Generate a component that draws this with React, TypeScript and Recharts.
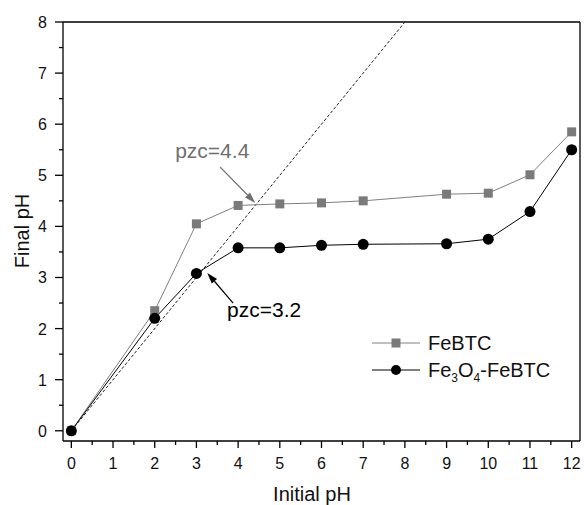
import React from 'react';
import { LineChart, Line, XAxis, YAxis, ReferenceLine, Legend } from 'recharts';

const initialPH = [0, 2, 3, 4, 5, 6, 7, 9, 10, 11, 12];
const feBTC = [0, 2.35, 4.05, 4.41, 4.44, 4.46, 4.5, 4.63, 4.65, 5.01, 5.85];
const fe3o4FeBTC = [0, 2.2, 3.08, 3.58, 3.58, 3.63, 3.65, 3.66, 3.75, 4.29, 5.5];

const xTicks = Array.from({ length: 25 }, (_, i) => i / 2);
const yTicks = Array.from({ length: 17 }, (_, i) => i / 2);

const data = initialPH.map((x, i) => ({ x, feBTC: feBTC[i], fe3o4: fe3o4FeBTC[i] }));

const FONT = '"Liberation Sans", Arial, sans-serif';

function XTick(props: any) {
  const { x, y, payload } = props;
  const major = Number.isInteger(payload.value);
  return (
    <g>
      <line x1={x} x2={x} y1={y} y2={y + (major ? 7 : 4)} stroke="#000" strokeWidth={1.3} />
      {major && (
        <text x={x} y={y + 28} textAnchor="middle" fontSize={16} fontFamily={FONT} fill="#111">
          {payload.value}
        </text>
      )}
    </g>
  );
}

function YTick(props: any) {
  const { x, y, payload } = props;
  const major = Number.isInteger(payload.value);
  return (
    <g>
      <line x1={x} x2={x - (major ? 8 : 4)} y1={y} y2={y} stroke="#000" strokeWidth={1.3} />
      {major && (
        <text x={x - 16} y={y + 6} textAnchor="end" fontSize={16} fontFamily={FONT} fill="#111">
          {payload.value}
        </text>
      )}
    </g>
  );
}

function arrow(color: string, label: string, dx: number, dy: number) {
  return (p: any) => {
    const { x1, y1, x2, y2 } = p;
    const ang = Math.atan2(y2 - y1, x2 - x1);
    const len = 11;
    const w = 3.5;
    const bx = x2 - len * Math.cos(ang);
    const by = y2 - len * Math.sin(ang);
    const px = -Math.sin(ang) * w;
    const py = Math.cos(ang) * w;
    return (
      <g>
        <line x1={x1} y1={y1} x2={bx} y2={by} stroke={color} strokeWidth={1.2} />
        <polygon points={`${x2},${y2} ${bx + px},${by + py} ${bx - px},${by - py}`} fill={color} />
        <text x={x1 + dx} y={y1 + dy} fontSize={21} fontFamily={FONT} fill={color}>
          {label}
        </text>
      </g>
    );
  };
}

function LegendBox() {
  return (
    <svg width={220} height={60} style={{ overflow: 'visible' }}>
      <line x1={12} x2={60} y1={15} y2={15} stroke="#808080" strokeWidth={1} />
      <rect x={31.5} y={10.5} width={9} height={9} fill="#7a7a7a" />
      <text x={68} y={22} fontSize={20} fontFamily={FONT} fill="#111">FeBTC</text>
      <line x1={12} x2={60} y1={42} y2={42} stroke="#000" strokeWidth={1} />
      <circle cx={36} cy={42} r={5} fill="#000" />
      <text x={68} y={49} fontSize={20} fontFamily={FONT} fill="#111">
        Fe<tspan fontSize={12} dy={5}>3</tspan>
        <tspan dy={-5}>O</tspan>
        <tspan fontSize={12} dy={5}>4</tspan>
        <tspan dy={-5}>-FeBTC</tspan>
      </text>
    </svg>
  );
}

export default function App() {
  return (
    <div style={{ position: 'absolute', left: 0, top: 0, background: '#fff' }}>
      <LineChart width={584} height={505} data={data} margin={{ top: 22, right: 4, bottom: 0, left: 0 }}>
        <XAxis
          dataKey="x"
          type="number"
          domain={[-0.2, 12.2]}
          ticks={xTicks}
          interval={0}
          height={64}
          tickSize={0}
          tickMargin={0}
          tick={<XTick />}
          axisLine={{ stroke: '#000', strokeWidth: 1.3 }}
          label={{
            content: () => (
              <text x={312} y={501} textAnchor="middle" fontSize={20} fontFamily={FONT} fill="#111">
                Initial pH
              </text>
            ),
          }}
        />
        <YAxis
          type="number"
          domain={[-0.2, 8]}
          ticks={yTicks}
          interval={0}
          width={63}
          tickSize={0}
          tickMargin={0}
          tick={<YTick />}
          axisLine={{ stroke: '#000', strokeWidth: 1.3 }}
          label={{
            content: () => (
              <text x={29} y={231} transform="rotate(-90 29 231)" textAnchor="middle" fontSize={20} fontFamily={FONT} fill="#111">
                Final pH
              </text>
            ),
          }}
        />
        <ReferenceLine y={8} stroke="#000" strokeWidth={1.3} ifOverflow="visible" />
        <ReferenceLine x={12.2} stroke="#000" strokeWidth={1.3} ifOverflow="visible" />
        <ReferenceLine
          segment={[{ x: 0, y: 0 }, { x: 8, y: 8 }]}
          stroke="#222"
          strokeWidth={1}
          strokeDasharray="3 2"
        />
        <ReferenceLine
          segment={[{ x: 3.57, y: 5.16 }, { x: 4.41, y: 4.46 }]}
          shape={arrow('#6e6e6e', 'pzc=4.4', -45, -9)}
        />
        <ReferenceLine
          segment={[{ x: 3.88, y: 2.5 }, { x: 3.26, y: 3.09 }]}
          shape={arrow('#000', 'pzc=3.2', -6, 14)}
        />
        <Line
          dataKey="feBTC"
          stroke="#808080"
          strokeWidth={1}
          isAnimationActive={false}
          dot={(p: any) => <rect key={`s${p.index}`} x={p.cx - 4.5} y={p.cy - 4.5} width={9} height={9} fill="#7a7a7a" />}
        />
        <Line
          dataKey="fe3o4"
          stroke="#000"
          strokeWidth={1}
          isAnimationActive={false}
          dot={(p: any) => <circle key={`c${p.index}`} cx={p.cx} cy={p.cy} r={5.5} fill="#000" />}
        />
        <Legend
          layout="horizontal"
          verticalAlign="middle"
          content={() => <LegendBox />}
          wrapperStyle={{ position: 'absolute', left: 360, top: 328, width: 220 }}
        />
      </LineChart>
    </div>
  );
}
